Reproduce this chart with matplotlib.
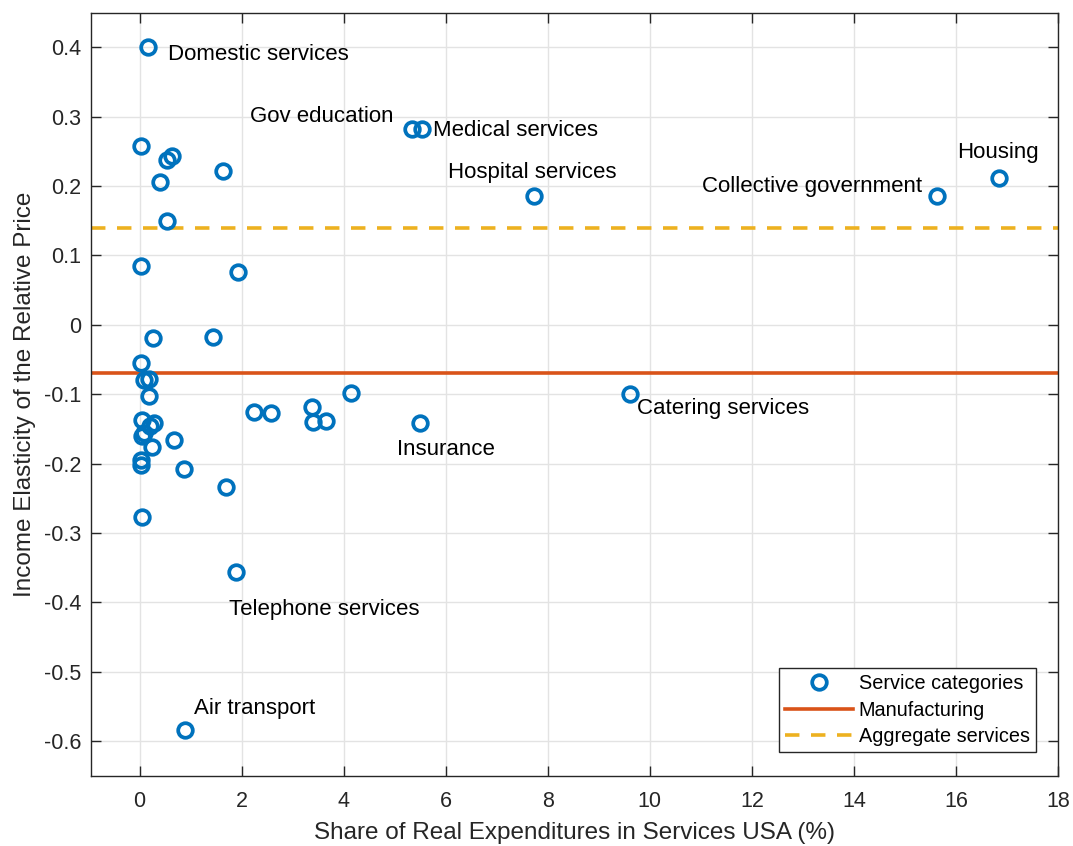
import matplotlib
matplotlib.use('Agg')
import matplotlib.pyplot as plt
from matplotlib.ticker import FuncFormatter

plt.rcParams['font.family'] = ['Liberation Sans', 'DejaVu Sans']
plt.rcParams['axes.unicode_minus'] = False

# share of real expenditures (%) and income elasticity per service category
share = [0.16, 0.02, 0.53, 0.63, 0.39, 1.63, 0.53, 0.02, 1.92,
         0.27, 1.43, 0.02, 0.08, 0.18, 0.18, 0.05, 0.28, 0.20, 0.08,
         0.05, 0.24, 0.67, 0.02, 0.02, 0.86, 1.69, 0.05, 1.88, 0.88,
         2.24, 2.57, 3.37, 3.39, 3.65, 4.14, 5.49, 9.61,
         5.33, 5.53, 7.73, 15.63, 16.84]
elasticity = [0.400, 0.258, 0.237, 0.243, 0.206, 0.222, 0.149, 0.085, 0.076,
              -0.019, -0.017, -0.055, -0.079, -0.078, -0.102, -0.137, -0.141, -0.146, -0.156,
              -0.160, -0.176, -0.166, -0.195, -0.202, -0.208, -0.234, -0.277, -0.356, -0.584,
              -0.126, -0.127, -0.118, -0.140, -0.139, -0.098, -0.141, -0.100,
              0.283, 0.283, 0.186, 0.186, 0.212]

manufacturing = -0.07
aggregate = 0.14

labels = ['Domestic services', 'Gov education', 'Medical services', 'Hospital services',
          'Collective government', 'Housing', 'Catering services', 'Insurance',
          'Telephone services', 'Air transport']
label_x = [0.55, 2.16, 5.75, 6.04, 11.02, 16.02, 9.745, 5.04, 1.76, 1.06]
label_y = [0.390, 0.300, 0.280, 0.219, 0.199, 0.249, -0.121, -0.180, -0.411, -0.553]

blue = '#0072BD'
orange = '#D95319'
yellow = '#EDB120'
dark = '#262626'

fig = plt.figure(figsize=(10.73, 8.46), dpi=100)
ax = fig.add_axes([0.085, 0.083, 0.901, 0.902])

ax.plot(share, elasticity, 'o', ls='none', ms=10.5, mfc='none', mec=blue, mew=2.7,
        label='Service categories', zorder=3)
ax.axhline(manufacturing, color=orange, lw=2.6, label='Manufacturing', zorder=2)
ax.axhline(aggregate, color=yellow, lw=2.6, ls=(0, (4, 3.2)), label='Aggregate services', zorder=2)

for t, x, y in zip(labels, label_x, label_y):
    ax.text(x, y, t, ha='left', va='center', fontsize=16, color='black')

ax.set_xlim(-0.95, 18)
ax.set_ylim(-0.65, 0.45)
ax.set_xticks(range(0, 19, 2))
ax.set_yticks([i / 10 for i in range(-6, 5)])
ax.yaxis.set_major_formatter(FuncFormatter(lambda v, p: '%g' % round(v, 2)))

ax.grid(True, color='#e3e3e3', lw=1)
ax.set_axisbelow(True)
ax.tick_params(direction='in', length=7, width=1, colors=dark, labelsize=15.5,
               top=True, right=True)
ax.tick_params(axis='x', pad=11)
ax.tick_params(axis='y', pad=7)
for s in ax.spines.values():
    s.set_color(dark)
    s.set_linewidth(1)

ax.set_xlabel('Share of Real Expenditures in Services USA (%)', fontsize=17.5, color=dark, labelpad=7)
ax.set_ylabel('Income Elasticity of the Relative Price', fontsize=17.5, color=dark, labelpad=6)

leg = ax.legend(loc='lower right', bbox_to_anchor=(0.977, 0.031), borderaxespad=0,
                fontsize=14.3, fancybox=False, framealpha=1, edgecolor=dark,
                handlelength=3.4, labelspacing=0.38, borderpad=0.3, handletextpad=0.3)
leg.get_frame().set_linewidth(1)

fig.savefig('out.png', dpi=100)
